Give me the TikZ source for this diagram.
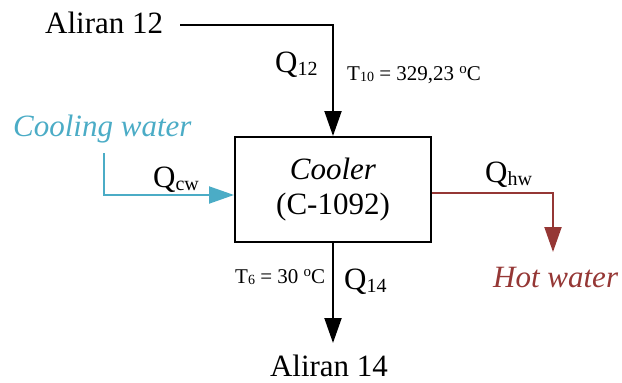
\documentclass[tikz,border=0pt]{standalone}
\usepackage{fontspec}
\setmainfont{Liberation Serif}
\usetikzlibrary{arrows.meta}
\definecolor{cwblue}{RGB}{75,172,198}
\definecolor{hwred}{RGB}{149,55,53}
\newcommand\bigsub[1]{\raisebox{-3pt}{\fontsize{20}{20}\selectfont #1}}
\newcommand\smallsub[1]{\raisebox{-1.5pt}{\fontsize{14}{14}\selectfont #1}}
\newcommand\degsup{\raisebox{7pt}{\fontsize{15}{15}\selectfont o}}
\begin{document}
\begin{tikzpicture}[x=1pt,y=-1pt,
  big/.style={font=\fontsize{31}{35}\selectfont, inner sep=0pt},
  small/.style={font=\fontsize{21}{24}\selectfont, inner sep=0pt},
  flow/.style={line width=2pt,-{Triangle[length=25pt,width=17pt]}},
]
\useasboundingbox (0,0) rectangle (622,383);
% main unit
\node[big, draw, line width=2pt, minimum width=196pt, minimum height=105pt, align=center] (box) at (333,189.5) {\textit{Cooler}\\(C-1092)};
% stream texts
\node[big, anchor=base] (a14) at (329,376.5) {Aliran 14};
\node[big, anchor=base west] (a12) at (45,33) {Aliran 12};
\node[big, anchor=base west, text=cwblue] (cw) at (13,136) {\textit{Cooling water}};
\node[big, anchor=base west, text=hwred] (hw) at (493,287) {\textit{Hot water}};
% labels
\node[big, anchor=base west] (q12) at (275,72) {Q\bigsub{12}};
\node[small, anchor=base west] (t10) at (347,80) {T\smallsub{10} = 329,23 \degsup C};
\node[big, anchor=base west] (qcw) at (153,187) {Q\bigsub{cw}};
\node[big, anchor=base west] (qhw) at (485,182) {Q\bigsub{hw}};
\node[small, anchor=base west] (t6) at (235,283) {T\smallsub{6} = 30 \degsup C};
\node[big, anchor=base west] (q14) at (344,289) {Q\bigsub{14}};
% connector end points
\coordinate (in12) at (180,25);
\coordinate (cwstart) at (104,153);
\coordinate (hwend) at (553,252);
\coordinate (out14) at (333,343);
% connectors
\draw[flow] (in12) -| (box.north);
\draw[flow, cwblue] (cwstart) |- ([yshift=-5.5pt]box.west);
\draw[flow, hwred] ([yshift=-3pt]box.east) -| (hwend);
\draw[flow] (box.south) -- (out14);
\end{tikzpicture}
\end{document}
